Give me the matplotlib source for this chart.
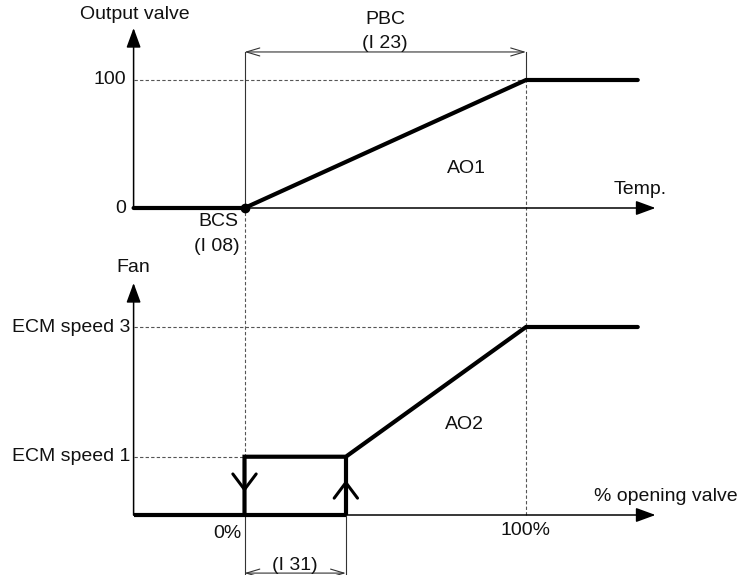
import matplotlib
matplotlib.use("Agg")
import matplotlib.pyplot as plt

plt.rcParams['font.family'] = ['Liberation Sans', 'DejaVu Sans']

# ---------------- data ----------------
# top panel: output valve vs temperature (BCS at 0, BCS+PBC at 100)
temp_points = [-39.4, 0, 100, 139.7]
valve_output = [0, 0, 100, 100]
valve_ticks = [0, 100]
valve_tick_labels = ["0", "100"]

# bottom panel: fan vs % opening valve
fan_speed1 = 31          # ECM speed 1 level
fan_speed3 = 100         # ECM speed 3 level
hyst_on = 36             # (I31) switch-on opening (%)
opening_points = [0, 0, hyst_on, 100, 139.7]
fan_values = [0, fan_speed1, fan_speed1, fan_speed3, fan_speed3]
fan_tick_labels = ["ECM speed 1", "ECM speed 3"]
opening_tick_labels = ["0%", "100%"]

# ---------------- layout ----------------
W, H = 743, 575
fig = plt.figure(figsize=(W / 100, H / 100), dpi=100)
split = 260  # pixel row where the two panels meet
ax1 = fig.add_axes([0, 1 - split / H, 1, split / H])
ax2 = fig.add_axes([0, 0, 1, (H - split) / H])

XL = (-86.86, 177.09)
ax1.set_xlim(*XL)
ax1.set_ylim(-40.625, 162.5)
ax2.set_xlim(*XL)
ax2.set_ylim(-31.915, 135.64)
for a in (ax1, ax2):
    a.axis('off')

X0 = temp_points[0]
TH = 3.0      # thick line
AX_LW = 1.1
DASH = dict(color='#555555', lw=0.8, ls=(0, (3, 2)))
THIN = dict(color='#333333', lw=0.8)
FS = 14
TXT = dict(fontsize=FS, color='#111111')


def axis_arrow(ax, xy_from, xy_to):
    ax.annotate('', xy=xy_to, xytext=xy_from,
                arrowprops=dict(arrowstyle='-|>,head_length=0.6,head_width=0.22',
                                mutation_scale=20, lw=AX_LW, color='black',
                                shrinkA=0, shrinkB=0), annotation_clip=False)


def dim_arrow(ax, x1, x2, y):
    ax.annotate('', xy=(x2, y), xytext=(x1, y),
                arrowprops=dict(arrowstyle='<->,head_length=0.6,head_width=0.18',
                                mutation_scale=16, lw=0.8, color='#333333',
                                shrinkA=0, shrinkB=0), annotation_clip=False)


# ---------------- top panel ----------------
ax1.plot([X0, 100], [100, 100], **DASH)
ax1.plot([100, 100], [100, 121.9], **THIN)
ax1.plot([100, 100], [-40.625, 100], **DASH)
ax1.plot([0, 0], [0, 121.9], **THIN)
ax1.plot([0, 0], [-40.625, 0], **DASH)
axis_arrow(ax1, (X0, 0), (146, 0))
axis_arrow(ax1, (X0, 0), (X0, 140.6))
ax1.plot(temp_points, valve_output, color='black', lw=TH, solid_capstyle='round',
         solid_joinstyle='miter')
ax1.plot([0], [0], 'o', color='black', ms=6)
dim_arrow(ax1, 0, 100, 121.9)
ax1.text(50, 146.9, "PBC", ha='center', va='center', **TXT)
ax1.text(50, 128.9, "(I 23)", ha='center', va='center', **TXT)
ax1.text(-38.9, 150.8, "Output valve", ha='center', va='center', **TXT)
for v, lab in zip(valve_ticks, valve_tick_labels):
    ax1.text(-42.1, v, lab, ha='right', va='center', **TXT)
ax1.text(79.0, 31.25, "AO1", ha='center', va='center', **TXT)
ax1.text(140.5, 14.1, "Temp.", ha='center', va='center', **TXT)
ax1.text(-2.3, -10.9, "BCS", ha='right', va='center', **TXT)
ax1.text(-1.6, -29.7, "(I 08)", ha='right', va='center', **TXT)

# ---------------- bottom panel ----------------
ax2.plot([X0, 100], [fan_speed3, fan_speed3], **DASH)
ax2.plot([X0, 0], [fan_speed1, fan_speed1], **DASH)
ax2.plot([100, 100], [0, 135.64], **DASH)
ax2.plot([0, 0], [fan_speed1, 135.64], **DASH)
ax2.plot([0, 0], [-31.915, 0], **THIN)
ax2.plot([hyst_on, hyst_on], [-31.915, 0], **THIN)
axis_arrow(ax2, (X0, 0), (146, 0))
axis_arrow(ax2, (X0, 0), (X0, 123.4))
ax2.plot([X0, hyst_on], [0, 0], color='black', lw=TH, solid_capstyle='butt')
ax2.plot(opening_points, fan_values, color='black', lw=TH, solid_capstyle='round',
         solid_joinstyle='miter')
ax2.plot([hyst_on, hyst_on], [0, fan_speed1], color='black', lw=TH, solid_capstyle='butt')
# direction chevrons
CHEV = dict(arrowstyle='->,head_length=0.4,head_width=0.3',
            mutation_scale=28, lw=2.2, color='black', shrinkA=0, shrinkB=0)
ax2.annotate('', xy=(0, 12.2), xytext=(0, 28), arrowprops=CHEV)
ax2.annotate('', xy=(hyst_on, 18.6), xytext=(hyst_on, 2), arrowprops=CHEV)
dim_arrow(ax2, 0, hyst_on, -30.9)
ax2.text(hyst_on / 2, -26.6, "(I 31)", ha='center', va='center', **TXT)
ax2.text(-39.6, 131.9, "Fan", ha='center', va='center', **TXT)
ax2.text(-40.7, fan_speed3, fan_tick_labels[1], ha='right', va='center', **TXT)
ax2.text(-40.4, fan_speed1, fan_tick_labels[0], ha='right', va='center', **TXT)
ax2.text(78.0, 48.4, "AO2", ha='center', va='center', **TXT)
ax2.text(124.2, 9.6, "% opening valve", ha='left', va='center', **TXT)
ax2.text(-1.2, -9.6, opening_tick_labels[0], ha='right', va='center', **TXT)
ax2.text(100, -8.5, opening_tick_labels[1], ha='center', va='center', **TXT)

fig.savefig("out.png", dpi=100)
